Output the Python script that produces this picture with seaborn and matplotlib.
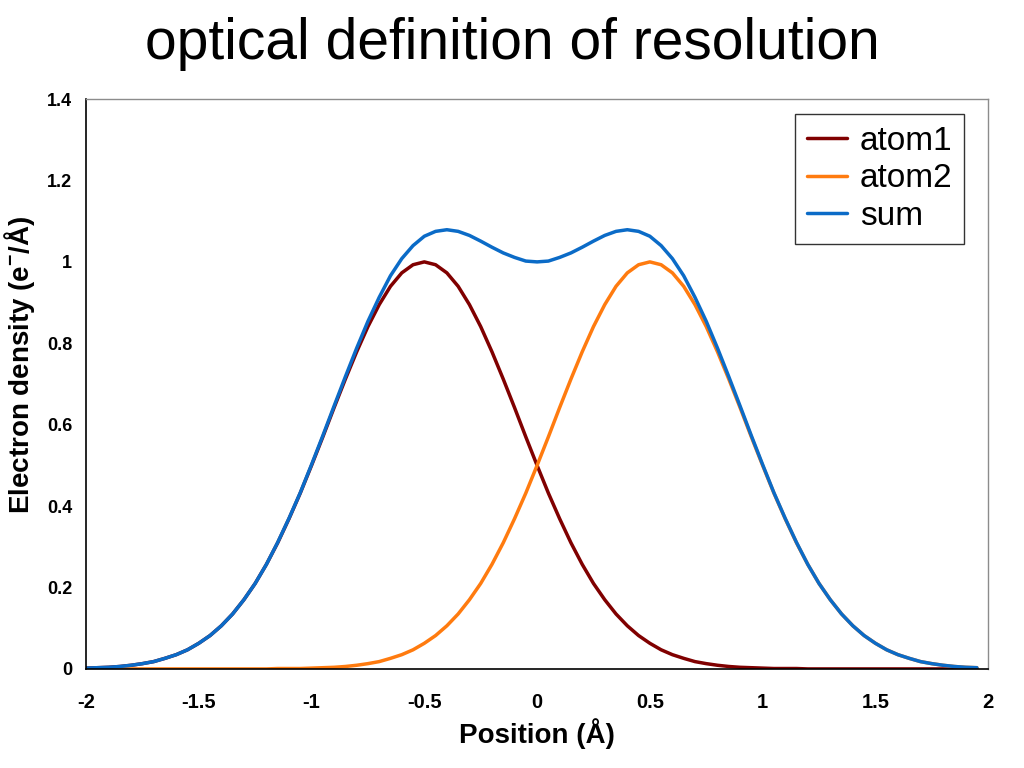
import numpy as np
import pandas as pd
import seaborn as sns
import matplotlib
matplotlib.use("Agg")
import matplotlib.pyplot as plt

# ==========================================
# 1. DATOS (paso 0.05 Å)
# ==========================================
posicion = [round(-2.0 + 0.05 * i, 2) for i in range(80)]

atom1 = [0.002, 0.003, 0.004, 0.006, 0.009, 0.013, 0.018, 0.026, 0.035, 0.047,
         0.063, 0.082, 0.106, 0.135, 0.170, 0.210, 0.257, 0.310, 0.369, 0.432,
         0.500, 0.570, 0.642, 0.712, 0.779, 0.841, 0.895, 0.940, 0.973, 0.993,
         1.000, 0.993, 0.973, 0.940, 0.895, 0.841, 0.779, 0.712, 0.642, 0.570,
         0.500, 0.432, 0.369, 0.310, 0.257, 0.210, 0.170, 0.135, 0.106, 0.082,
         0.063, 0.047, 0.035, 0.026, 0.018, 0.013, 0.009, 0.006, 0.004, 0.003,
         0.002, 0.001, 0.001, 0.001, 0.000, 0.000, 0.000, 0.000, 0.000, 0.000,
         0.000, 0.000, 0.000, 0.000, 0.000, 0.000, 0.000, 0.000, 0.000, 0.000]

atom2 = [0.000, 0.000, 0.000, 0.000, 0.000, 0.000, 0.000, 0.000, 0.000, 0.000,
         0.000, 0.000, 0.000, 0.000, 0.000, 0.000, 0.000, 0.001, 0.001, 0.001,
         0.002, 0.003, 0.004, 0.006, 0.009, 0.013, 0.018, 0.026, 0.035, 0.047,
         0.063, 0.082, 0.106, 0.135, 0.170, 0.210, 0.257, 0.310, 0.369, 0.432,
         0.500, 0.570, 0.642, 0.712, 0.779, 0.841, 0.895, 0.940, 0.973, 0.993,
         1.000, 0.993, 0.973, 0.940, 0.895, 0.841, 0.779, 0.712, 0.642, 0.570,
         0.500, 0.432, 0.369, 0.310, 0.257, 0.210, 0.170, 0.135, 0.106, 0.082,
         0.063, 0.047, 0.035, 0.026, 0.018, 0.013, 0.009, 0.006, 0.004, 0.003]

suma = [0.002, 0.003, 0.004, 0.006, 0.009, 0.013, 0.018, 0.026, 0.035, 0.047,
        0.063, 0.082, 0.106, 0.135, 0.170, 0.210, 0.257, 0.311, 0.370, 0.433,
        0.502, 0.573, 0.646, 0.718, 0.788, 0.854, 0.913, 0.966, 1.008, 1.040,
        1.063, 1.075, 1.079, 1.075, 1.065, 1.051, 1.036, 1.022, 1.011, 1.002,
        1.000, 1.002, 1.011, 1.022, 1.036, 1.051, 1.065, 1.075, 1.079, 1.075,
        1.063, 1.040, 1.008, 0.966, 0.913, 0.854, 0.788, 0.718, 0.646, 0.573,
        0.502, 0.433, 0.370, 0.311, 0.257, 0.210, 0.170, 0.135, 0.106, 0.082,
        0.063, 0.047, 0.035, 0.026, 0.018, 0.013, 0.009, 0.006, 0.004, 0.003]

series = ['atom1', 'atom2', 'sum']
colores = {'atom1': '#800000', 'atom2': '#ff7b0f', 'sum': '#0b6bc7'}

x_ticks = [-2, -1.5, -1, -0.5, 0, 0.5, 1, 1.5, 2]
x_tick_labels = ['-2', '-1.5', '-1', '-0.5', '0', '0.5', '1', '1.5', '2']
y_ticks = [0, 0.2, 0.4, 0.6, 0.8, 1.0, 1.2, 1.4]
y_tick_labels = ['0', '0.2', '0.4', '0.6', '0.8', '1', '1.2', '1.4']

df = pd.DataFrame({
    'Posicion': posicion * 3,
    'Densidad': atom1 + atom2 + suma,
    'Serie': ['atom1'] * 80 + ['atom2'] * 80 + ['sum'] * 80,
})

# ==========================================
# 2. ESTILO
# ==========================================
sns.set_theme(style="white")
plt.rcParams['font.family'] = ['Liberation Sans', 'DejaVu Sans']
plt.rcParams['text.color'] = 'black'
plt.rcParams['axes.labelcolor'] = 'black'
plt.rcParams['mathtext.fontset'] = 'custom'
plt.rcParams['mathtext.rm'] = 'Liberation Sans'
plt.rcParams['mathtext.bf'] = 'Liberation Sans:bold'

fig = plt.figure(figsize=(10.24, 7.68), dpi=100)
ax = fig.add_axes([0.084, 0.129, 0.881, 0.742])

sns.lineplot(data=df, x='Posicion', y='Densidad', hue='Serie', hue_order=series,
             palette=colores, linewidth=2.5, ax=ax, sort=False)

ax.set_xlim(-2, 2)
ax.set_ylim(0, 1.4)
ax.set_xticks(x_ticks)
ax.set_xticklabels(x_tick_labels, fontsize=14.5, fontweight='bold')
ax.set_yticks(y_ticks)
ax.set_yticklabels(y_tick_labels, fontsize=13, fontweight='bold')
ax.tick_params(axis='x', direction='inout', length=8, width=1.2, pad=13, colors='black')
ax.tick_params(axis='y', direction='out', length=4, width=1.0, pad=6, colors='black')

for lado in ['left', 'bottom']:
    ax.spines[lado].set_color('black')
    ax.spines[lado].set_linewidth(1.2)
for lado in ['top', 'right']:
    ax.spines[lado].set_color('#8c8c8c')
    ax.spines[lado].set_linewidth(1.0)

ax.set_xlabel('Position (Å)', fontsize=20, fontweight='bold')
ax.xaxis.set_label_coords(0.5, -0.086)
ax.set_ylabel(r'Electron density (e$^{\mathbf{-}}$/Å)', fontsize=20, fontweight='bold')
ax.yaxis.set_label_coords(-0.054, 0.533)

leg = ax.legend(loc='upper right', bbox_to_anchor=(0.9734, 0.9737), borderaxespad=0,
                fontsize=24, frameon=True, fancybox=False, handlelength=1.2,
                handletextpad=0.4, labelspacing=0.2, borderpad=0.35)
leg.get_frame().set_edgecolor('black')
leg.get_frame().set_linewidth(1.0)
for linea in leg.get_lines():
    linea.set_linewidth(2.5)

fig.text(0.5, 0.943, 'optical definition of resolution', ha='center', va='center',
         fontsize=41, color='black')

fig.savefig('out.png', dpi=100)
